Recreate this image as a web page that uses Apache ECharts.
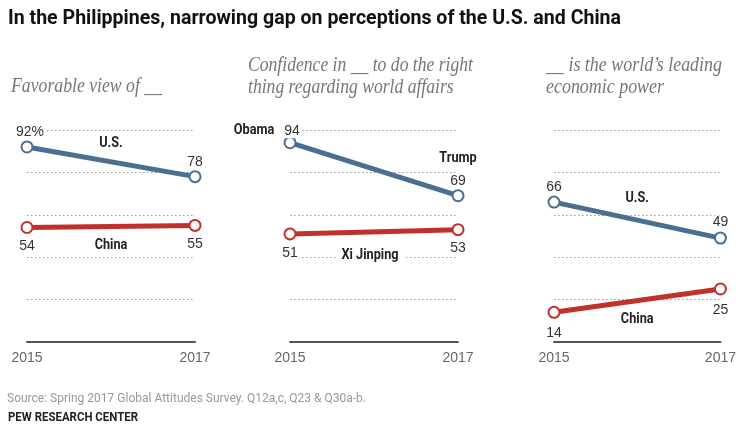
<!DOCTYPE html>
<html>
<head>
<meta charset="utf-8">
<script src="https://cdn.jsdelivr.net/npm/echarts@6/dist/echarts.min.js"></script>
<style>
  html, body { margin: 0; padding: 0; background: #fff; }
  #chart { width: 739px; height: 433px; }
</style>
</head>
<body>
<div id="chart"></div>
<script>
// years on the x axis
const years = ['2015', '2017']
// Favorable view of __
const favUS = [92, 78]
const favChina = [54, 55]
// Confidence in __ to do the right thing
const confUS = [94, 69]
const confChina = [51, 53]
// __ is the world's leading economic power
const econUS = [66, 49]
const econChina = [14, 25]
// gridline ticks
const yTicks = [0, 20, 40, 60, 80, 100]

const BLUE = '#4a6f91'
const RED = '#c1302a'
const SANS = '"Liberation Sans", Arial, sans-serif'
const SERIF = '"Liberation Serif", "DejaVu Serif", serif'
const BOLD = 'bold 14px Roboto, sans-serif'

const chart = echarts.init(document.getElementById('chart'))

const gridLefts = [27, 290, 554]
const gridWidths = [168, 168, 169]

// squeeze a text horizontally so that it spans the given width (condensed look)
const measureCtx = document.createElement('canvas').getContext('2d')
function squeeze(text, font, width) {
  measureCtx.font = font
  return width / measureCtx.measureText(text).width
}

function numLabel(pos, extra) {
  return Object.assign({
    show: true,
    position: pos,
    distance: 4,
    color: '#333',
    fontFamily: SANS,
    fontSize: 14,
    backgroundColor: '#fff',
    padding: [0, 2]
  }, extra || {})
}

function lineSeries(idx, data, color, labels) {
  return {
    type: 'line',
    xAxisIndex: idx,
    yAxisIndex: idx,
    data: data.map((v, i) => ({ value: v, label: labels[i] })),
    symbol: 'emptyCircle',
    symbolSize: 11,
    lineStyle: { color: color, width: 5 },
    itemStyle: { color: color, borderWidth: 2 },
    z: 3,
    animation: false
  }
}

function flatText(x, y, text, font, fill, width, extra) {
  return {
    type: 'text',
    x: x,
    y: y,
    scaleX: width ? squeeze(text.split('\n')[0], font, width) : 1,
    style: Object.assign({ text: text, font: font, fill: fill, verticalAlign: 'top' }, extra || {})
  }
}

const SUB = 'italic 20px ' + SERIF
const headTexts = [
  flatText(8, 8, 'In the Philippines, narrowing gap on perceptions of the U.S. and China', 'bold 21px Roboto, sans-serif', '#111', 613),
  flatText(11, 77, 'Favorable view of __', SUB, '#777', 151),
  flatText(248, 55, 'Confidence in __ to do the right\nthing regarding world affairs', SUB, '#777', 225, { lineHeight: 22 }),
  flatText(546, 55, '__ is the world\u2019s leading\neconomic power', SUB, '#777', 176, { lineHeight: 22 }),
  flatText(7, 392, 'Source: Spring 2017 Global Attitudes Survey. Q12a,c, Q23 & Q30a-b.', '12.5px Roboto, sans-serif', '#999', 359),
  flatText(8, 412, 'PEW RESEARCH CENTER', 'bold 12px Roboto, sans-serif', '#222', 130)
]

const option = {
  animation: false,
  grid: gridLefts.map((l, i) => ({ left: l, width: gridWidths[i], top: 130, height: 212 })),
  xAxis: [0, 1, 2].map(i => ({
    gridIndex: i,
    type: 'category',
    data: years,
    boundaryGap: false,
    axisTick: { show: false },
    axisLine: { lineStyle: { color: '#555', width: 2 } },
    axisLabel: { color: '#666', fontFamily: SANS, fontSize: 14, margin: 9 }
  })),
  yAxis: [0, 1, 2].map(i => ({
    gridIndex: i,
    type: 'value',
    min: yTicks[0],
    max: yTicks[yTicks.length - 1],
    interval: yTicks[1] - yTicks[0],
    axisLine: { show: false },
    axisTick: { show: false },
    axisLabel: { show: false },
    splitLine: { lineStyle: { color: '#999', type: [1.5, 2.5], width: 1 } }
  })),
  series: [
    lineSeries(0, favUS, BLUE, [
      numLabel('top', { formatter: '{c}%', offset: [3, 0], distance: 1 }),
      numLabel('top', { distance: 1 })
    ]),
    lineSeries(0, favChina, RED, [
      numLabel('bottom', { distance: 5 }),
      numLabel('bottom', { distance: 5 })
    ]),
    lineSeries(1, confUS, BLUE, [
      numLabel('top', { distance: -2, padding: [0, 2, 0, 6] }),
      numLabel('top', { distance: 1 })
    ]),
    lineSeries(1, confChina, RED, [
      numLabel('bottom', { distance: 6 }),
      numLabel('bottom', { distance: 5 })
    ]),
    lineSeries(2, econUS, BLUE, [
      numLabel('top', { distance: 1 }),
      numLabel('top', { distance: 2 })
    ]),
    lineSeries(2, econChina, RED, [
      numLabel('bottom', { distance: 7 }),
      numLabel('bottom', { distance: 8 })
    ])
  ],
  graphic: headTexts
}

chart.setOption(option)

const nameScale = squeeze('Xi Jinping', BOLD, 57)

// bold series names, placed relative to the line's points
function nameLabel(idx, data, text, at, dx, dy) {
  const a = chart.convertToPixel({ xAxisIndex: idx, yAxisIndex: idx }, [0, data[0]])
  const b = chart.convertToPixel({ xAxisIndex: idx, yAxisIndex: idx }, [1, data[1]])
  const p = at === 'mid' ? [(a[0] + b[0]) / 2, (a[1] + b[1]) / 2] : (at === 0 ? a : b)
  return {
    type: 'text',
    x: p[0] + dx,
    y: p[1] + dy,
    scaleX: nameScale,
    z: 10,
    style: {
      text: text,
      font: BOLD,
      fill: '#222',
      align: 'center',
      verticalAlign: 'middle',
      backgroundColor: '#fff',
      padding: [1, 6]
    }
  }
}

const nameLabels = [
  nameLabel(0, favUS, 'U.S.', 'mid', 0, -18),
  nameLabel(0, favChina, 'China', 'mid', 0, 19),
  nameLabel(1, confUS, 'Obama', 0, -36, -12),
  nameLabel(1, confUS, 'Trump', 1, 0, -37),
  nameLabel(1, confChina, 'Xi Jinping', 'mid', -4, 24),
  nameLabel(2, econUS, 'U.S.', 'mid', 0, -22),
  nameLabel(2, econChina, 'China', 'mid', 0, 19)
]
chart.setOption({ graphic: headTexts.concat(nameLabels) })
</script>
</body>
</html>
